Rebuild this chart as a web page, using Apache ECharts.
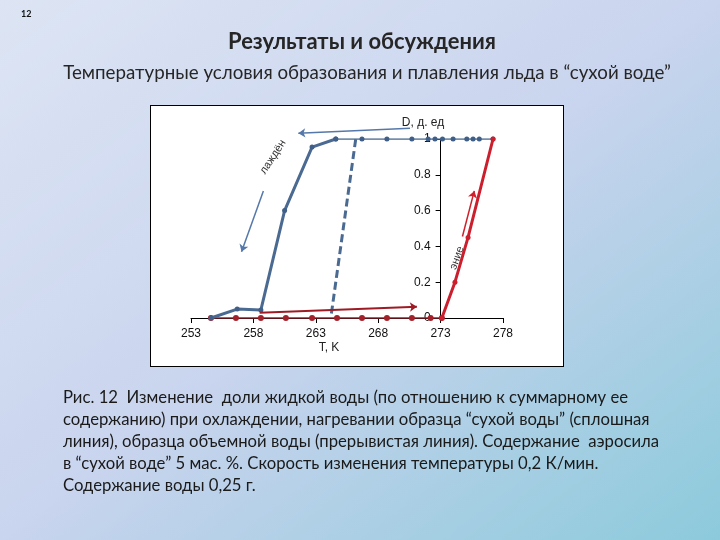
<!DOCTYPE html>
<html><head><meta charset="utf-8">
<script src="https://cdn.jsdelivr.net/npm/echarts@6/dist/echarts.min.js"></script>
<style>
html,body{margin:0;padding:0;width:720px;height:540px;overflow:hidden}
body{background:linear-gradient(to bottom right,#dde5f4 0%,#c9d4ee 50%,#8ccadb 100%)}
#box{position:absolute;left:150px;top:105px;width:414px;height:262px;box-sizing:border-box;background:#fff;border:1.5px solid #000}
#chart{position:absolute;left:0;top:0;width:720px;height:540px}
</style></head><body><div id="box"></div><div id="chart"></div>
<script>
// ---- data ----
const coolT = [254.6, 256.7, 258.6, 260.5, 262.7, 264.6];
const coolD = [0, 0.05, 0.045, 0.60, 0.955, 1];
const plateauT = [264.6, 266.7, 268.7, 270.7, 272.0, 272.55, 273.15, 274.0, 275.1, 275.6, 276.1, 277.2];
const plateauD = [1, 1, 1, 1, 1, 1, 1, 1, 1, 1, 1, 1];
const heatBaseT = [254.6, 256.6, 258.6, 260.6, 262.7, 264.7, 266.7, 268.7, 270.7, 272.2, 273.1];
const heatBaseD = [0, 0, 0, 0, 0, 0, 0, 0, 0, 0, 0];
const heatRiseT = [273.1, 274.15, 275.2, 277.2];
const heatRiseD = [0, 0.2, 0.45, 1];
const bulkT = [264.25, 266.2];
const bulkD = [0.025, 1];
// annotation arrows in data coordinates [T, D]
const coolArrowTop = [[270.55, 1.06], [261.6, 1.032]];
const coolArrowDown = [[258.8, 0.71], [257.05, 0.37]];
const heatArrowBase = [[258.5, 0.03], [271.1, 0.063]];
const heatArrowRise = [[274.75, 0.455], [275.7, 0.71]];
const xMin = 253, xMax = 278, xStep = 5;
const yMin = 0, yMax = 1, yStep = 0.2;
const yAxisAtT = 273;

const pageTitle = 'Результаты и обсуждения';
const pageSub = 'Температурные условия образования и плавления льда в “сухой воде”';
const caption = [
  'Рис. 12  Изменение  доли жидкой воды (по отношению к суммарному ее',
  'содержанию) при охлаждении, нагревании образца “сухой воды” (сплошная',
  'линия), образца объемной воды (прерывистая линия). Содержание  аэросила',
  'в “сухой воде” 5 мас. %. Скорость изменения температуры 0,2 К/мин.',
  'Содержание воды 0,25 г.'
];

const zip = (a, b) => a.map((v, i) => [v, b[i]]);
const FONT = 'Lato, "Open Sans", sans-serif';
const cnv = document.createElement('canvas').getContext('2d');
function fit(text, weight, family, w) {
  cnv.font = weight + ' 100px ' + family;
  return 100 * w / cnv.measureText(text).width;
}
const titleSize = fit(pageTitle, 'bold', FONT, 268);
const subSize = fit(pageSub, 'normal', FONT, 608);
const capSize = fit(caption[2], 'normal', FONT, 597);

const gridL = 191, gridR = 217, gridT = 139, gridB = 222;
const gridW = 720 - gridL - gridR;
const yOffset = -(yAxisAtT - xMin) / (xMax - xMin) * gridW;

const blue = '#4a6a92', red = '#cc1f2d', darkRed = '#a3212a', arrowBlue = '#5578aa';

const graphics = [
  {type: 'text', left: 21, top: 10, style: {text: '12', font: 'bold 9px ' + FONT, fill: '#111'}},
  {type: 'text', x: 362, y: 42, style: {text: pageTitle, font: 'bold ' + titleSize.toFixed(2) + 'px ' + FONT, fill: '#262626', textAlign: 'center', textVerticalAlign: 'middle'}},
  {type: 'text', x: 367, y: 73, style: {text: pageSub, font: subSize.toFixed(2) + 'px ' + FONT, fill: '#262626', textAlign: 'center', textVerticalAlign: 'middle'}},
  {type: 'text', x: 423, y: 123, style: {text: 'D, д. ед', font: '12px "Liberation Sans"', fill: '#222', textAlign: 'center', textVerticalAlign: 'middle'}},
  {type: 'text', x: 329, y: 348, style: {text: 'T, K', font: '12px "Liberation Sans"', fill: '#222', textAlign: 'center', textVerticalAlign: 'middle'}},
  {type: 'text', x: 273, y: 157, rotation: 57 * Math.PI / 180, style: {text: 'лаждён', font: '11px "Liberation Sans"', fill: '#333', textAlign: 'center', textVerticalAlign: 'middle'}},
  {type: 'text', x: 457, y: 258, rotation: 70 * Math.PI / 180, style: {text: 'эние', font: '11px "Liberation Sans"', fill: '#333', textAlign: 'center', textVerticalAlign: 'middle'}}
];
caption.forEach((line, i) => {
  graphics.push({type: 'text', x: 63, y: 398 + i * 22, style: {text: line, font: capSize.toFixed(2) + 'px ' + FONT, fill: '#1a1a1a', textAlign: 'left', textVerticalAlign: 'middle'}});
});

function arrow(coords, color, width) {
  return {
    type: 'lines', coordinateSystem: 'cartesian2d', clip: false, z: 5,
    symbol: ['none', 'arrow'], symbolSize: 7,
    lineStyle: {color: color, width: width, opacity: 1},
    data: [{coords: coords}]
  };
}

const chart = echarts.init(document.getElementById('chart'), null, {renderer: 'canvas'});
chart.setOption({
  backgroundColor: 'transparent',
  animation: false,
  grid: {left: gridL, right: gridR, top: gridT, bottom: gridB, containLabel: false, outerBoundsMode: 'none'},
  xAxis: {
    type: 'value', min: xMin, max: xMax, interval: xStep,
    axisLine: {show: true, onZero: false, lineStyle: {color: '#000', width: 1}},
    axisTick: {show: true, length: 5, lineStyle: {color: '#000'}},
    axisLabel: {color: '#111', fontSize: 12, fontFamily: 'Liberation Sans', margin: 10},
    splitLine: {show: false}
  },
  yAxis: {
    type: 'value', min: yMin, max: yMax, interval: yStep, position: 'left', offset: yOffset,
    axisLine: {show: true, lineStyle: {color: '#000', width: 1}},
    axisTick: {show: true, length: 5, lineStyle: {color: '#000'}},
    axisLabel: {color: '#111', fontSize: 12, fontFamily: 'Liberation Sans', margin: 10,
      formatter: v => (v === 0 ? '0' : v === 1 ? '1' : v.toFixed(1))},
    splitLine: {show: false}
  },
  graphic: graphics,
  series: [
    {type: 'line', data: zip(plateauT, plateauD), z: 3, symbol: 'circle', symbolSize: 5,
      lineStyle: {color: blue, width: 1.5}, itemStyle: {color: '#3f5f88'}},
    {type: 'line', data: zip(heatBaseT, heatBaseD), z: 3, symbol: 'circle', symbolSize: 6,
      lineStyle: {color: darkRed, width: 1.5}, itemStyle: {color: darkRed}},
    {type: 'line', data: zip(coolT, coolD), z: 4, symbol: 'circle', symbolSize: 5,
      lineStyle: {color: blue, width: 3}, itemStyle: {color: '#3f5f88'}},
    {type: 'line', data: zip(bulkT, bulkD), z: 4, symbol: 'none',
      lineStyle: {color: blue, width: 3, type: [8, 4]}},
    {type: 'line', data: zip(heatRiseT, heatRiseD), z: 4, symbol: 'circle', symbolSize: 5,
      lineStyle: {color: red, width: 3}, itemStyle: {color: red}},
    arrow(coolArrowTop, arrowBlue, 1.5),
    arrow(coolArrowDown, arrowBlue, 1.5),
    arrow(heatArrowBase, '#9e1b24', 2),
    arrow(heatArrowRise, '#d0202a', 1.5)
  ]
});
</script></body></html>
